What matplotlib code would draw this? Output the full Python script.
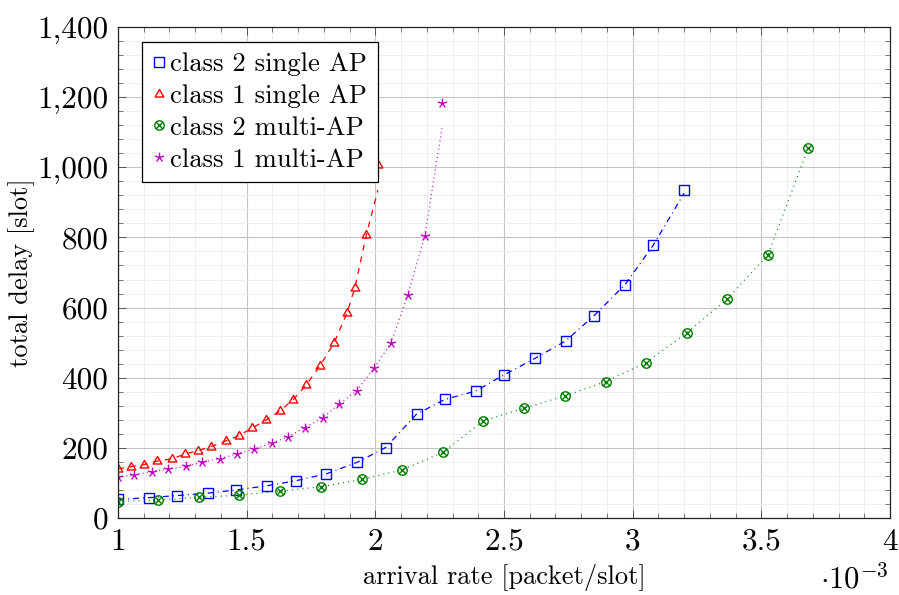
import numpy as np
import matplotlib
matplotlib.use("Agg")
import matplotlib.pyplot as plt
from matplotlib.path import Path
from matplotlib.ticker import MultipleLocator, FuncFormatter

plt.rcParams.update({
    "font.family": "cmr10",
    "mathtext.fontset": "cm",
    "axes.unicode_minus": False,
    "axes.formatter.use_mathtext": True,
    "lines.scale_dashes": False,
})

# arrival rate in units of 1e-3 packet/slot, total delay in slots

# class 2, single AP
rate_c2_single = [1.00, 1.12, 1.23, 1.35, 1.46, 1.58, 1.69, 1.81, 1.93, 2.04,
                  2.16, 2.27, 2.39, 2.50, 2.62, 2.74, 2.85, 2.97, 3.08, 3.20]
delay_c2_single = [53, 58, 64, 71, 80, 92, 106, 126, 159, 201,
                   296, 338, 362, 408, 455, 505, 577, 665, 778, 935]
curve_c2_single = [53, 58, 64, 71, 80, 92, 106, 126, 159, 201,
                   296, 338, 362, 408, 455, 505, 577, 665, 778, 926]

# class 1, single AP
rate_c1_single = [1.00, 1.05, 1.10, 1.15, 1.21, 1.26, 1.31, 1.36, 1.42, 1.47,
                  1.52, 1.575, 1.63, 1.68, 1.73, 1.785, 1.84, 1.89, 1.92, 1.965, 2.01]
delay_c1_single = [140, 146, 152, 162, 169, 182, 192, 203, 220, 235,
                   256, 279, 306, 337, 378, 434, 500, 585, 655, 807, 1006]
curve_c1_single = [140, 146, 152, 162, 169, 182, 192, 203, 220, 235,
                   256, 279, 306, 337, 378, 434, 500, 585, 655, 807, 935]

# class 2, multi-AP
rate_c2_multi = [1.00, 1.157, 1.315, 1.47, 1.63, 1.788, 1.947, 2.104, 2.262,
                 2.42, 2.578, 2.737, 2.895, 3.052, 3.21, 3.368, 3.526, 3.682]
delay_c2_multi = [47, 51, 59, 65, 77, 89, 110, 137, 187,
                  277, 313, 348, 389, 443, 528, 625, 751, 1055]

# class 1, multi-AP
rate_c1_multi = [1.00, 1.063, 1.131, 1.195, 1.263, 1.327, 1.396, 1.463, 1.529, 1.597,
                 1.662, 1.727, 1.796, 1.86, 1.928, 1.995, 2.06, 2.126, 2.192, 2.259]
delay_c1_multi = [116, 123, 132, 140, 147, 159, 169, 183, 197, 213,
                  232, 258, 286, 325, 363, 427, 498, 636, 804, 1184]
curve_c1_multi = [116, 123, 132, 140, 147, 159, 169, 183, 197, 213,
                  232, 258, 286, 325, 363, 427, 498, 636, 804, 1111]

x_ticks = [1, 1.5, 2, 2.5, 3, 3.5, 4]
y_ticks = [0, 200, 400, 600, 800, 1000, 1200, 1400]

BLUE = "#0000ff"
RED = "#ff0000"
GREEN = "#008000"
MAGENTA = "#c000c0"


def otimes_marker():
    circ = Path.unit_circle()
    s = np.sqrt(0.5)
    verts = np.concatenate([circ.vertices, [[-s, -s], [s, s], [-s, s], [s, -s]]])
    codes = np.concatenate([circ.codes, [Path.MOVETO, Path.LINETO, Path.MOVETO, Path.LINETO]])
    return Path(verts, codes)


def star_marker():
    verts, codes = [], []
    for k in range(5):
        a = np.pi / 2 + 2 * np.pi * k / 5
        verts += [[0, 0], [np.cos(a), np.sin(a)]]
        codes += [Path.MOVETO, Path.LINETO]
    return Path(verts, codes)


def triangle_marker():
    pts = [[np.cos(a), np.sin(a)] for a in np.pi / 2 + 2 * np.pi * np.arange(3) / 3]
    return Path(pts + [pts[0]], [Path.MOVETO, Path.LINETO, Path.LINETO, Path.CLOSEPOLY])


W, H = 899, 595
fig = plt.figure(figsize=(W / 100, H / 100), dpi=100)
ax = fig.add_axes([118 / W, 1 - 518 / H, (890 - 118) / W, (518 - 27) / H])

lw = 0.9
# connecting curves
ax.plot(rate_c2_single, curve_c2_single, color=BLUE, lw=lw, dashes=(4.3, 2.9, 0.7, 2.9))
ax.plot(rate_c1_single, curve_c1_single, color=RED, lw=lw, dashes=(4.3, 4.3))
ax.plot(rate_c2_multi, delay_c2_multi, color=GREEN, lw=lw, dashes=(0.7, 3.0))
ax.plot(rate_c1_multi, curve_c1_multi, color=MAGENTA, lw=lw, dashes=(0.7, 2.3))

# markers
mew = 1.0
ax.plot(rate_c2_single, delay_c2_single, ls="none", marker="s", ms=7.3,
        mfc="none", mec=BLUE, mew=mew, label="class 2 single AP")
ax.plot(rate_c1_single, delay_c1_single, ls="none", marker=triangle_marker(), ms=7.2,
        mfc="none", mec=RED, mew=mew, label="class 1 single AP")
ax.plot(rate_c2_multi, delay_c2_multi, ls="none", marker=otimes_marker(), ms=6.8,
        mfc="none", mec=GREEN, mew=mew, label="class 2 multi-AP")
ax.plot(rate_c1_multi, delay_c1_multi, ls="none", marker=star_marker(), ms=7.0,
        mfc="none", mec=MAGENTA, mew=mew, label="class 1 multi-AP")

ax.set_xlim(1, 4)
ax.set_ylim(0, 1400)
ax.set_xticks(x_ticks)
ax.set_yticks(y_ticks)
ax.xaxis.set_minor_locator(MultipleLocator(0.1))
ax.yaxis.set_minor_locator(MultipleLocator(40))
ax.xaxis.set_major_formatter(FuncFormatter(lambda v, p: f"{v:g}"))
ax.yaxis.set_major_formatter(FuncFormatter(lambda v, p: f"{v:,.0f}"))

ax.set_axisbelow(True)
ax.grid(which="major", color="#c4c4c4", lw=0.8)
ax.grid(which="minor", color="#ececec", lw=0.6)

ax.tick_params(which="both", direction="in", top=True, right=True,
               color="#444444", labelsize=22.5)
ax.tick_params(which="major", length=5.5, width=0.6, pad=7)
ax.tick_params(which="minor", length=3.6, width=0.5)
for sp in ax.spines.values():
    sp.set_linewidth(0.9)
    sp.set_color("#222222")

ax.set_xlabel("arrival rate [packet/slot]", fontsize=19, labelpad=6)
ax.set_ylabel("total delay [slot]", fontsize=19)
ax.yaxis.set_label_coords((35 - 118) / 772, 0.5)

fig.text(889 / W, 1 - 588 / H, r"$\cdot 10^{-3}$", ha="right", va="baseline", fontsize=22)

leg = ax.legend(loc="upper left", bbox_to_anchor=(142 / W, 1 - 42 / H),
                bbox_transform=fig.transFigure, borderaxespad=0, fancybox=False,
                edgecolor="black", framealpha=1, fontsize=19.2, numpoints=1,
                handlelength=0.5, handletextpad=0.15, borderpad=0.4, labelspacing=0.3)
leg.get_frame().set_linewidth(0.9)

fig.savefig("out.png", dpi=100)
